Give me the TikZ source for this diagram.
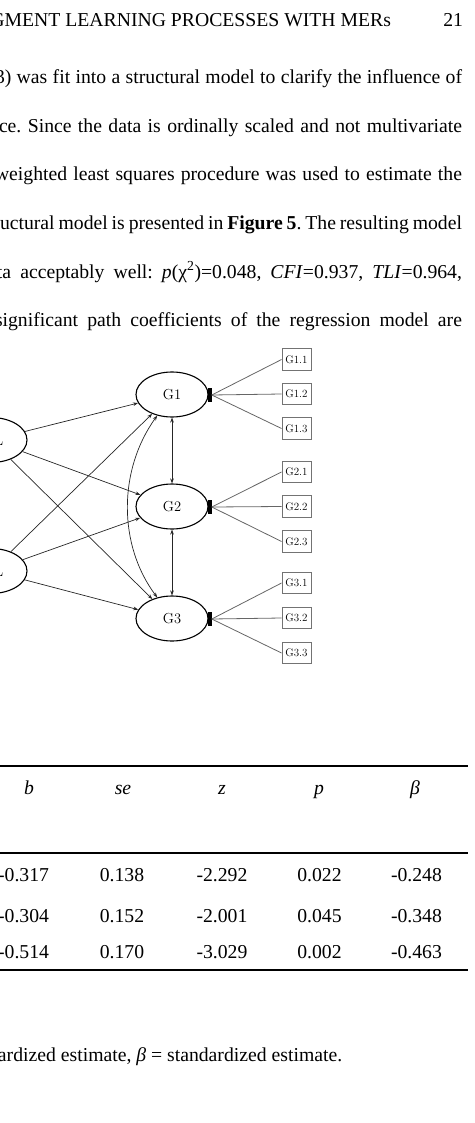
\documentclass[tikz,border=0pt]{standalone}
\usepackage{fontspec}
\newfontfamily\tnr{Liberation Serif}
\usetikzlibrary{shapes.geometric,arrows.meta}
\frenchspacing
\begin{document}
\begin{tikzpicture}[x=1pt,y=-1pt,
  body/.style={font=\tnr\fontsize{19.7}{23}\selectfont, inner sep=0, outer sep=0, anchor=base west},
  cell/.style={font=\tnr\fontsize{19.7}{23}\selectfont, inner sep=0, outer sep=0, anchor=base},
  lat/.style={ellipse, draw=black, line width=1.1pt, minimum width=72pt, minimum height=45pt, inner sep=0, font=\fontsize{14.5}{16}\selectfont},
  ind/.style={rectangle, draw=black!55, line width=0.9pt, minimum width=29pt, minimum height=21.5pt, inner sep=0, font=\fontsize{11}{12}\selectfont},
  bar/.style={fill=black, minimum width=3.5pt, minimum height=14pt, inner sep=0, outer sep=0},
  path/.style={draw=black!85, line width=0.7pt, -{Stealth[length=5pt,width=3.6pt]}},
  dpath/.style={draw=black!85, line width=0.7pt, {Stealth[length=5pt,width=3.6pt]}-{Stealth[length=5pt,width=3.6pt]}},
  load/.style={draw=black!60, line width=0.8pt},
  rule/.style={line width=1.6pt}
]
\useasboundingbox (0,0) rectangle (474,1123);
\clip (0,0) rectangle (474,1123);

% header
\node[body, anchor=base east] (hdr) at (391,26.5) {GMENT LEARNING PROCESSES WITH MERs};
\node[body, anchor=base east] (pg) at (463,26.5) {21};

% body text
\node[body] (t1) at (-5,84) {\makebox[467pt][s]{3) was fit into a structural model to clarify the influence of}};
\node[body] (t2) at (-1,132.5) {\makebox[463pt][s]{ce. Since the data is ordinally scaled and not multivariate}};
\node[body] (t3) at (-5,181) {\makebox[467pt][s]{weighted least squares procedure was used to estimate the}};
\node[body] (t4) at (0,229.5) {\makebox[462pt][s]{uctural model is presented in \textbf{Figure 5}. The resulting model}};
\node[body] (t5) at (-3,278) {\makebox[465pt][s]{ta acceptably well: \textit{p}(χ\textsuperscript{2})=0.048, \textit{CFI}=0.937, \textit{TLI}=0.964,}};
\node[body] (t6) at (-5,326.5) {\makebox[467pt][s]{significant path coefficients of the regression model are}};

% diagram
\node[lat] (L1) at (-9,440) {};
\node[lat] (L2) at (-9,571) {};
\node[font=\fontsize{14.5}{16}\selectfont, inner sep=0, anchor=base east] (L1t) at (3.5,445) {L};
\node[font=\fontsize{14.5}{16}\selectfont, inner sep=0, anchor=base east] (L2t) at (3.5,576) {L};

\node[lat] (G1) at (172,394.5) {G1};
\node[lat] (G2) at (172,506.5) {G2};
\node[lat] (G3) at (172,618.5) {G3};

\node[bar] (B1) at (210,395) {};
\node[bar] (B2) at (210,507) {};
\node[bar] (B3) at (210,619) {};

\node[ind] (G11) at (296.5,359.5) {G1.1};
\node[ind] (G12) at (296.5,394) {G1.2};
\node[ind] (G13) at (296.5,428.5) {G1.3};
\node[ind] (G21) at (296.5,472) {G2.1};
\node[ind] (G22) at (296.5,506.5) {G2.2};
\node[ind] (G23) at (296.5,541.5) {G2.3};
\node[ind] (G31) at (296.5,583) {G3.1};
\node[ind] (G32) at (296.5,618) {G3.2};
\node[ind] (G33) at (296.5,653) {G3.3};

\foreach \g in {1,2,3}{
  \foreach \i in {1,2,3}{
    \draw[load] (B\g.east) -- (G\g\i.west);
  }
}

\draw[path] (L1) -- (G1);
\draw[path] (L1) -- (G2);
\draw[path] (L1) -- (G3);
\draw[path] (L2) -- (G1);
\draw[path] (L2) -- (G2);
\draw[path] (L2) -- (G3);

\draw[dpath] (G1) -- (G2);
\draw[dpath] (G2) -- (G3);
\draw[dpath] (G1.235) .. controls (118,470) and (118,545) .. (G3.125);

% table
\draw[rule] (0,766) -- (468,766);
\draw[rule] (0,853) -- (468,853);
\draw[rule] (0,970) -- (468,970);

\node[cell] (hb) at (29,794) {\textit{b}};
\node[cell] (hse) at (123,794) {\textit{se}};
\node[cell] (hz) at (222,794) {\textit{z}};
\node[cell] (hp) at (319,794) {\textit{p}};
\node[cell] (hbeta) at (415,794) {\textit{β}};

\node[cell, anchor=base east] (r1a) at (49,881) {-0.317};
\node[cell] (r1b) at (122,881) {0.138};
\node[cell] (r1c) at (222,881) {-2.292};
\node[cell] (r1d) at (319.5,881) {0.022};
\node[cell] (r1e) at (416.5,881) {-0.248};

\node[cell, anchor=base east] (r2a) at (49,922) {-0.304};
\node[cell] (r2b) at (122,922) {0.152};
\node[cell] (r2c) at (222,922) {-2.001};
\node[cell] (r2d) at (319.5,922) {0.045};
\node[cell] (r2e) at (416.5,922) {-0.348};

\node[cell, anchor=base east] (r3a) at (49,958) {-0.514};
\node[cell] (r3b) at (122,958) {0.170};
\node[cell] (r3c) at (222,958) {-3.029};
\node[cell] (r3d) at (319.5,958) {0.002};
\node[cell] (r3e) at (416.5,958) {-0.463};

% note
\node[body] (note) at (-2,1061) {ardized estimate, \textit{β} = standardized estimate.};
\end{tikzpicture}
\end{document}
